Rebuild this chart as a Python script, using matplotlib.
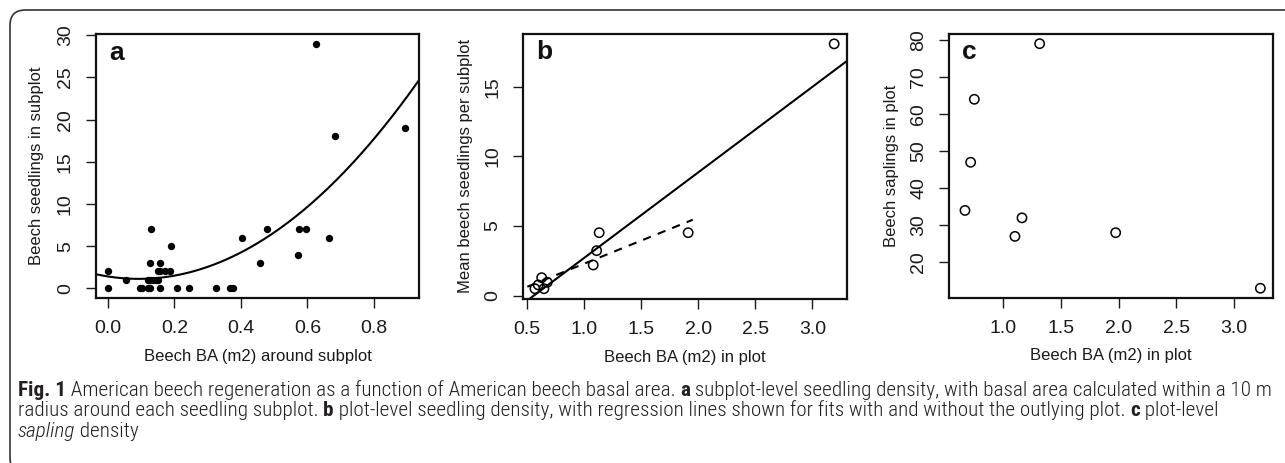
import matplotlib
matplotlib.use("Agg")
import matplotlib.pyplot as plt
from matplotlib.patches import FancyBboxPatch
from matplotlib import font_manager
import numpy as np

# panel a: seedlings per subplot vs beech BA around subplot
a_x = [0.0, 0.096, 0.103, 0.12, 0.128, 0.158, 0.208, 0.244, 0.326, 0.368, 0.376,
       0.055, 0.12, 0.128, 0.136, 0.144, 0.152,
       0.0, 0.151, 0.158, 0.173, 0.188,
       0.128, 0.156, 0.458,
       0.573, 0.19, 0.403, 0.665,
       0.131, 0.478, 0.575, 0.595,
       0.682, 0.895, 0.625]
a_y = [0, 0, 0, 0, 0, 0, 0, 0, 0, 0, 0,
       1, 1, 1, 1, 1, 1,
       2, 2, 2, 2, 2,
       3, 3, 3,
       4, 5, 6, 6,
       7, 7, 7, 7,
       18, 19, 29]

# panel b: mean seedlings per subplot vs plot BA
b_x = [0.567, 0.596, 0.626, 0.646, 0.675, 1.078, 1.108, 1.13, 1.91, 3.19]
b_y = [0.5, 0.77, 1.29, 0.5, 0.96, 2.2, 3.23, 4.52, 4.52, 18.07]

# panel c: saplings per plot vs plot BA
c_x = [0.668, 0.717, 0.749, 1.101, 1.162, 1.315, 1.974, 3.228]
c_y = [34, 47, 64, 27, 32, 79, 28, 13]

W, H = 1285, 463
fig = plt.figure(figsize=(W / 100, H / 100), dpi=100)
plt.rcParams['font.family'] = ['Liberation Sans', 'DejaVu Sans']
ink = '#1a1a1a'


def px_axes(l, t, r, b):
    return fig.add_axes([l / W, 1 - b / H, (r - l) / W, (b - t) / H])


def style(ax, xticks, yticks, xfmt, xlabel, ylabel, ylab_x, letter):
    ax.set_xticks(xticks)
    ax.set_xticklabels([xfmt.format(v) for v in xticks])
    ax.set_yticks(yticks)
    ax.set_yticklabels([str(v) for v in yticks], rotation=90, va='center')
    ax.tick_params(direction='out', length=7.5, width=1.0, pad=8.5,
                   labelsize=14, colors=ink)
    for s in ax.spines.values():
        s.set_linewidth(1.6)
        s.set_color('#111111')
    ax.set_xlabel(xlabel, fontsize=12, color=ink)
    ax.set_ylabel(ylabel, fontsize=12, color=ink)
    ax.xaxis.set_label_coords(0.5, -0.22)
    ax.yaxis.set_label_coords(ylab_x, 0.5)
    ax.xaxis.label.set_va('center')
    ax.yaxis.label.set_va('center')
    ax.text(0.04, 0.975, letter, transform=ax.transAxes, ha='left', va='top',
            fontsize=19, fontweight='bold', color='#111111')


# --- a
ax1 = px_axes(96, 34, 419, 298)
ax1.scatter(a_x, a_y, s=28, color='black', zorder=3, linewidths=0)
coef_a = np.polyfit(a_x, a_y, 2)
xs = np.linspace(-0.036, 0.936, 200)
ax1.plot(xs, np.polyval(coef_a, xs), color='black', lw=1.5)
ax1.set_xlim(-0.036, 0.936)
ax1.set_ylim(-1.16, 30.16)
style(ax1, [0.0, 0.2, 0.4, 0.6, 0.8], [0, 5, 10, 15, 20, 25, 30], '{:.1f}',
      'Beech BA (m2) around subplot', 'Beech seedlings in subplot', -0.183, 'a')

# --- b
ax2 = px_axes(523.3, 33.7, 846.7, 299)
ax2.scatter(b_x, b_y, s=45, facecolors='none', edgecolors='black', linewidths=1.1, zorder=3)
coef_all = np.polyfit(b_x, b_y, 1)
xl = np.array([0.465, 3.30])
ax2.plot(xl, np.polyval(coef_all, xl), color='black', lw=1.5)
coef_no = np.polyfit(b_x[:-1], b_y[:-1], 1)
xd = np.array([0.5, 1.95])
ax2.plot(xd, np.polyval(coef_no, xd), color='black', lw=1.5, ls=(0, (4, 3.5)))
ax2.set_xlim(0.465, 3.30)
ax2.set_ylim(-0.24, 18.8)
style(ax2, [0.5, 1.0, 1.5, 2.0, 2.5, 3.0], [0, 5, 10, 15], '{:.1f}',
      'Beech BA (m2) in plot', 'Mean beech seedlings per subplot', -0.18, 'b')

# --- c
ax3 = px_axes(949.3, 33.7, 1272.7, 297.7)
ax3.scatter(c_x, c_y, s=45, facecolors='none', edgecolors='black', linewidths=1.1, zorder=3)
ax3.set_xlim(0.532, 3.335)
ax3.set_ylim(10.45, 81.7)
style(ax3, [1.0, 1.5, 2.0, 2.5, 3.0], [20, 30, 40, 50, 60, 70, 80], '{:.1f}',
      'Beech BA (m2) in plot', 'Beech saplings in plot', -0.178, 'c')

# frame
frame = FancyBboxPatch((10 / W, -10 / H), 1.2, 1.0,
                       boxstyle='round,pad=0,rounding_size=0.012',
                       transform=fig.transFigure, fill=False,
                       edgecolor='#333333', lw=1.2, mutation_aspect=W / H)
fig.patches.append(frame)

# caption with mixed bold / italic runs
cap_lines = [
    [("Fig. 1", 'bold', 'normal'),
     (" American beech regeneration as a function of American beech basal area. ", 'light', 'normal'),
     ("a", 'bold', 'normal'),
     (" subplot-level seedling density, with basal area calculated within a 10 m", 'light', 'normal')],
    [("radius around each seedling subplot. ", 'light', 'normal'),
     ("b", 'bold', 'normal'),
     (" plot-level seedling density, with regression lines shown for fits with and without the outlying plot. ", 'light', 'normal'),
     ("c", 'bold', 'normal'),
     (" plot-level", 'light', 'normal')],
    [("sapling", 'light', 'italic'),
     (" density", 'light', 'normal')],
]
names = {f.name for f in font_manager.fontManager.ttflist}
cap_font = [n for n in ['Liberation Sans Narrow', 'Roboto Condensed', 'Open Sans Condensed']
            if n in names] + ['DejaVu Sans']
cap_stretch = 'condensed'
renderer = fig.canvas.get_renderer()


def run_width(s, size, weight, st):
    kw = dict(fontsize=size, fontweight=weight, fontstyle=st, family=cap_font,
              fontstretch=cap_stretch)
    t = fig.text(0, 0, 'x' + s + 'x', **kw)
    t2 = fig.text(0, 0, 'xx', **kw)
    w = t.get_window_extent(renderer).width - t2.get_window_extent(renderer).width
    t.remove()
    t2.remove()
    return w


base = 12
w0 = sum(run_width(s, base, wt, st) for s, wt, st in cap_lines[0])
cap_size = base * (1256 / w0)
baselines = [396, 416.5, 437]
for line, yb in zip(cap_lines, baselines):
    x = 18
    for s, wt, st in line:
        fig.text(x / W, 1 - yb / H, s, fontsize=cap_size, fontweight=wt, fontstyle=st,
                 family=cap_font, fontstretch=cap_stretch, color='#231f20',
                 va='baseline', ha='left')
        x += run_width(s, cap_size, wt, st)

fig.savefig('out.png', dpi=100)
